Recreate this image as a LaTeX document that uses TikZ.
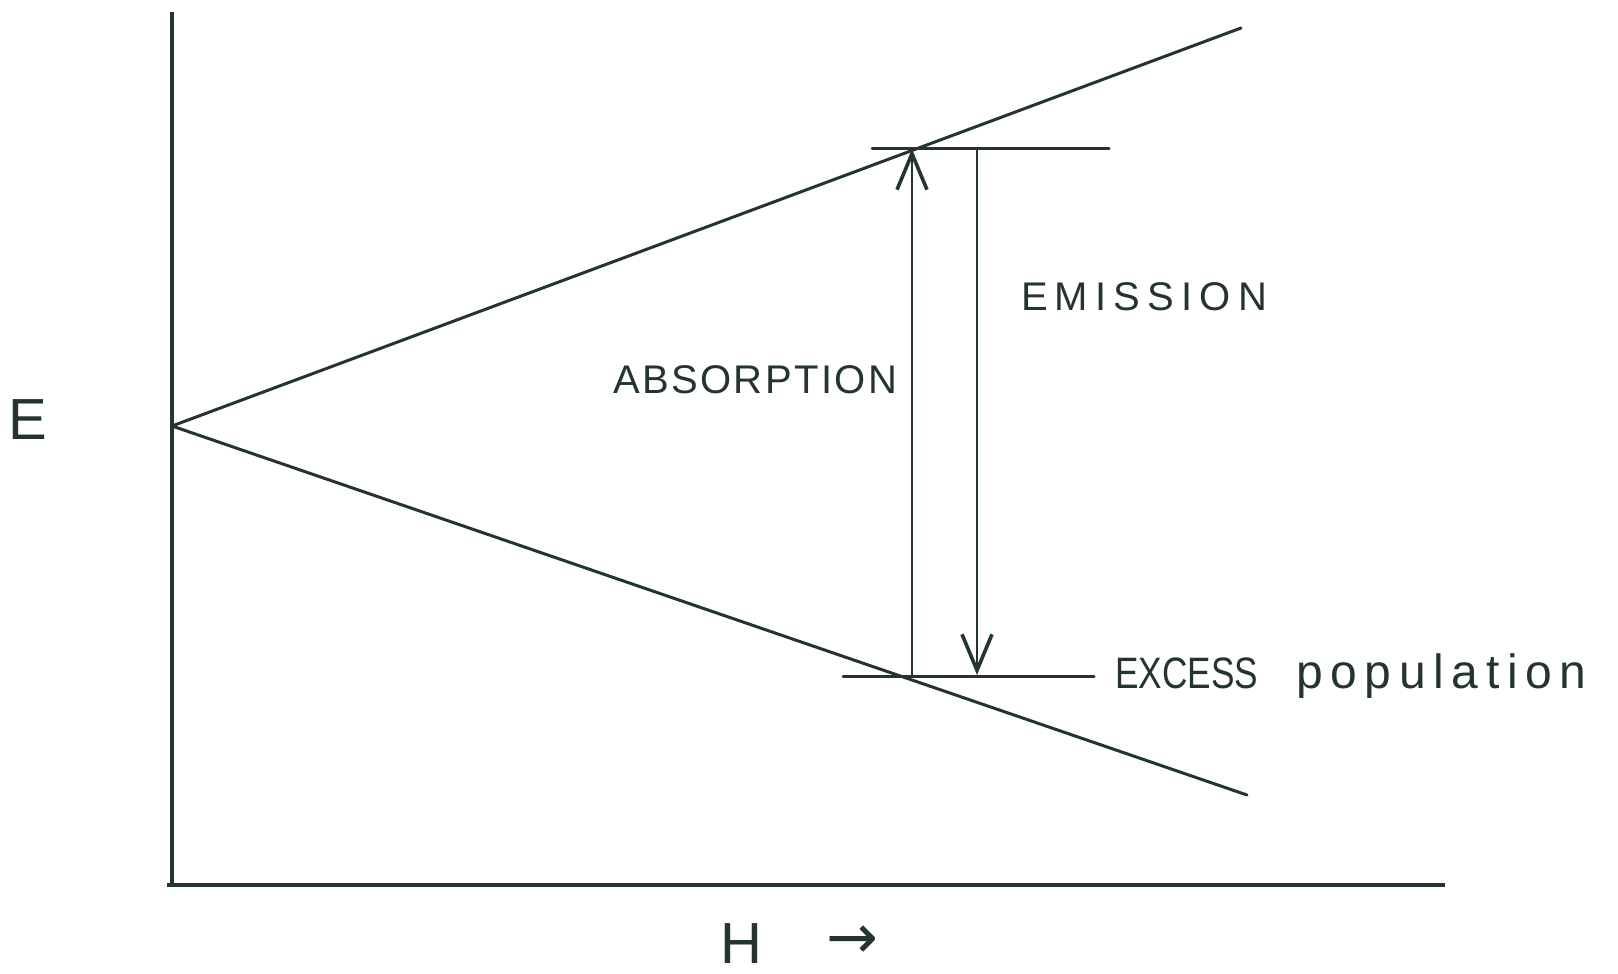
\documentclass[tikz,border=0pt]{standalone}
\usepackage{fontspec}
\setmainfont{Liberation Sans}
\newfontfamily\arrowfont{DejaVu Sans}
\usetikzlibrary{arrows.meta}
\definecolor{ink}{RGB}{36,54,44}
\tikzset{
  axisline/.style={draw=ink,line width=3.6pt},
  levelline/.style={draw=ink,line width=3pt,line cap=round},
  transline/.style={draw=ink,line width=2.8pt,-{Straight Barb[length=36pt,width=30pt,line width=3.6pt]}},
  lbl/.style={text=ink,inner sep=0pt},
  biglbl/.style={text=ink,font=\fontsize{58}{62}\selectfont,inner sep=0pt}
}
\begin{document}
\begin{tikzpicture}[x=1pt,y=-1pt]
\useasboundingbox (0,0) rectangle (1618,974);
% axes
\coordinate (ytop) at (172,12);
\coordinate (origin) at (172,885);
\coordinate (xleft) at (167,885);
\coordinate (xright) at (1445,885);
\draw[axisline] (ytop) -- (origin);
\draw[axisline] (xleft) -- (xright);
% Zeeman lines
\coordinate (vertex) at (172,426);
\coordinate (upend) at (1241,28);
\coordinate (lowend) at (1247,795);
\draw[levelline] (vertex) -- (upend);
\draw[levelline] (vertex) -- (lowend);
% level bars
\coordinate (ubL) at (872,148);
\coordinate (ubR) at (1109,148);
\coordinate (lbL) at (843,676);
\coordinate (lbR) at (1094,676);
\draw[levelline] (ubL) -- (ubR);
\draw[levelline] (lbL) -- (lbR);
% transitions
\coordinate (absB) at (912,676);
\coordinate (absT) at (912,149);
\coordinate (emT) at (977,148);
\coordinate (emB) at (977,675);
\draw[transline] (absB) -- (absT);
\draw[transline] (emT) -- (emB);
% labels
\node[lbl,font={\fontsize{40}{44}\selectfont\addfontfeature{LetterSpace=6}}] (absorption) at (755,380) {ABSORPTION};
\node[lbl,font={\fontsize{40}{44}\selectfont\addfontfeature{LetterSpace=18}}] (emission) at (1144,297) {EMISSION};
\node[lbl,anchor=base west,font={\fontsize{44}{48}\selectfont}] (excess) at (1115,688) {\scalebox{0.8}[1]{EXCESS}\hspace{38pt}{\fontsize{48}{52}\selectfont\addfontfeature{LetterSpace=16}population}};
\node[biglbl] (elabel) at (28,420) {E};
\node[biglbl] (hlabel) at (741,944) {H};
\node[lbl,font={\arrowfont\fontsize{62}{66}\selectfont}] (harrow) at (852,942) {→};
\end{tikzpicture}
\end{document}
